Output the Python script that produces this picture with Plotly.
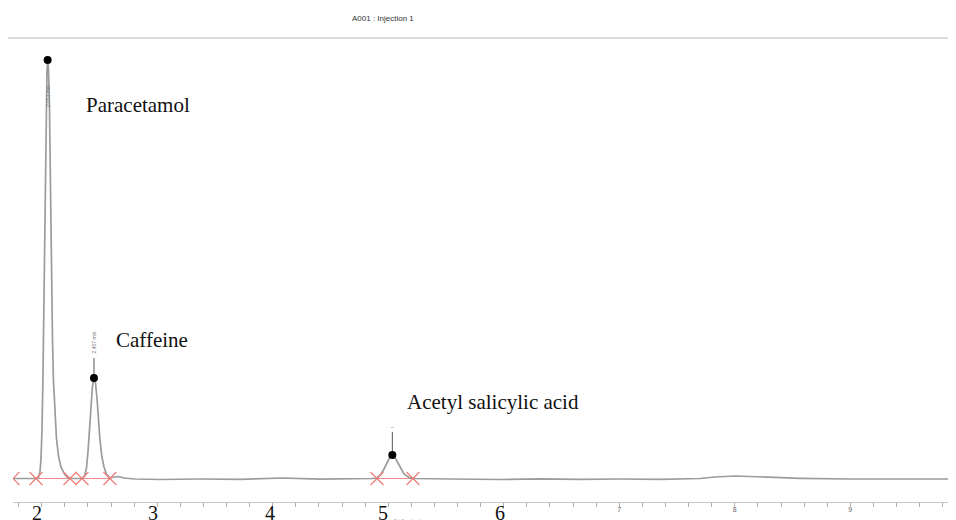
import plotly.graph_objects as go

# ---- data (time in min, signal in mAU) ----
time_min = [1.751, 1.855, 1.950, 1.971, 1.984, 1.993, 2.002, 2.010, 2.019, 2.028, 2.036, 2.045,
            2.051, 2.058, 2.067, 2.075, 2.084, 2.093, 2.101, 2.114, 2.127, 2.145, 2.166, 2.192,
            2.218, 2.253, 2.296, 2.348, 2.370, 2.387, 2.400, 2.413, 2.426, 2.439, 2.452, 2.465,
            2.478, 2.491, 2.504, 2.521, 2.539, 2.560, 2.590, 2.625, 2.660, 2.712, 2.807, 3.023,
            3.370, 3.716, 4.080, 4.409, 4.668, 4.859, 4.902, 4.937, 4.963, 4.989, 5.010, 5.035,
            5.058, 5.084, 5.110, 5.136, 5.179, 5.223, 5.534, 5.967, 6.313, 6.660, 7.006, 7.352,
            7.699, 7.829, 8.002, 8.218, 8.565, 8.997, 9.430, 9.915]
signal_mau = [0, 0.5, 0, 2, 13, 37, 97, 197, 357, 557, 717, 813,
              837, 821, 737, 577, 417, 277, 197, 127, 81, 45, 23, 11,
              3, 0, 0, 0, 5, 21, 53, 97, 149, 185, 201, 191,
              161, 117, 77, 43, 23, 9, 1, 3, 4, 1, -1, -2,
              -1, -1.6, 1, -1.4, -1, 0, 1, 9, 19, 31, 41, 47,
              42, 31, 19, 9, 2, 0, -1, -2, -0.6, -1.6, -1, -1.8,
              0, 3, 5, 3, 0.4, -1, -1.6, -1]

peak_names = ["Paracetamol", "Caffeine", "Acetyl salicylic acid"]
peak_rt = [2.051, 2.452, 5.035]
peak_height = [837, 201, 47]
peak_rt_labels = ["2.051 min", "2.457 min", ""]

# integration boundaries (baseline markers)
integ_t = [1.751, 1.950, 2.244, 2.348, 2.590, 4.902, 5.214]
integ_y = [0, 0, 0, 0, 0, 0, 0]
baseline_segments = [(1.950, 2.590), (4.902, 5.214)]

# axis ticks
minor_ticks = [round(1.8 + 0.2 * i, 1) for i in range(41)]
small_tick_labels = {7.0: "7", 8.0: "8", 9.0: "9"}
big_tick_labels = ["2", "3", "4", "5", "6"]
big_tick_pos = [1.958, 2.963, 3.976, 4.954, 5.967]

# label positions (time, signal)
name_pos_t = [2.833, 2.955, 5.905]
name_pos_y = [747, 277, 153]

fig = go.Figure()

# red integration baselines
for (a, b) in baseline_segments:
    fig.add_trace(go.Scatter(x=[a, b], y=[0, 0], mode="lines",
                             line=dict(color="#f08a8a", width=1.2),
                             hoverinfo="skip", showlegend=False))

# chromatogram
fig.add_trace(go.Scatter(x=time_min, y=signal_mau, mode="lines",
                         line=dict(color="#9c9c9c", width=1.7),
                         showlegend=False))

# integration markers
fig.add_trace(go.Scatter(x=integ_t, y=integ_y, mode="markers",
                         marker=dict(symbol="x-thin", size=13,
                                     line=dict(color="#f07c7c", width=1.2)),
                         hoverinfo="skip", showlegend=False))

# label stems for caffeine and ASA
stem_top = [None, 241, 93]
for rt, h, top in zip(peak_rt, peak_height, stem_top):
    if top is not None:
        fig.add_trace(go.Scatter(x=[rt, rt], y=[h, top], mode="lines",
                                 line=dict(color="#555555", width=1),
                                 hoverinfo="skip", showlegend=False))

# apex dots
fig.add_trace(go.Scatter(x=peak_rt, y=peak_height, mode="markers",
                         marker=dict(color="black", size=8),
                         showlegend=False))

serif = "Liberation Serif, Times New Roman, serif"

# compound names
for name, t, y in zip(peak_names, name_pos_t, name_pos_y):
    fig.add_annotation(x=t, y=y, text=name, showarrow=False,
                       font=dict(family=serif, size=21, color="#111111"),
                       xanchor="center", yanchor="middle")

# rotated retention time labels
fig.add_annotation(x=peak_rt[0] + 0.002, y=765, text=peak_rt_labels[0], textangle=-90,
                   showarrow=False, font=dict(family="Arial", size=5, color="#777777"))
fig.add_annotation(x=peak_rt[1], y=272, text=peak_rt_labels[1], textangle=-90,
                   showarrow=False, font=dict(family="Arial", size=5, color="#777777"))
fig.add_annotation(x=peak_rt[2], y=96, text="‾", showarrow=False,
                   font=dict(family="Arial", size=7, color="#777777"))

# big serif tick labels pasted over the axis
for lab, t in zip(big_tick_labels, big_tick_pos):
    fig.add_annotation(x=t, xref="x", y=0.004, yref="paper", text=lab, showarrow=False,
                       font=dict(family=serif, size=20, color="#111111"),
                       xanchor="center", yanchor="top")

# tiny axis title remnant under "5"
fig.add_annotation(x=5.03, xref="x", y=-0.03, yref="paper", text="Ret.Time (min)",
                   showarrow=False, font=dict(family="Arial", size=4, color="#888888"),
                   xanchor="left", yanchor="top")

# header
fig.add_annotation(x=0.392, xref="paper", y=1.043, yref="paper", text="A001 : Injection 1",
                   showarrow=False, font=dict(family="Arial", size=8, color="#333333"),
                   xanchor="center", yanchor="middle")
fig.add_shape(type="line", xref="paper", yref="paper", x0=-0.02, x1=1.0, y0=1.0, y1=1.0,
              line=dict(color="#dcdcdc", width=2))

# the page body adds an 8px offset, so the figure is 8px smaller than the window
fig.update_layout(
    width=948, height=512,
    margin=dict(l=5, r=0, t=30, b=18),
    paper_bgcolor="white", plot_bgcolor="white",
    xaxis=dict(range=[1.751, 9.915], showgrid=False, zeroline=False, automargin=False,
               showline=True, linecolor="#c8c8c8", linewidth=1,
               tickmode="array", tickvals=minor_ticks,
               ticktext=[small_tick_labels.get(v, "") for v in minor_ticks],
               ticks="outside", ticklen=4, tickcolor="#b0b0b0",
               ticklabelstandoff=-3,
               tickfont=dict(family="Arial", size=7, color="#666666")),
    yaxis=dict(range=[-47, 881], visible=False, showgrid=False, zeroline=False,
               automargin=False),
    showlegend=False,
)

fig.write_html("out.html")
